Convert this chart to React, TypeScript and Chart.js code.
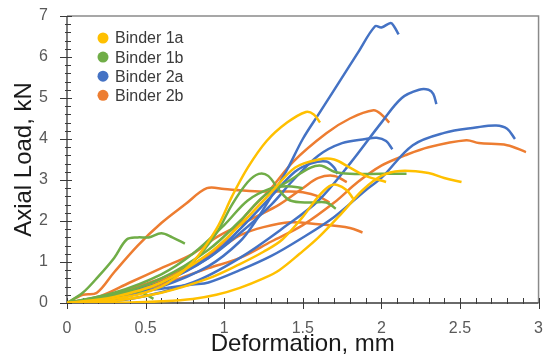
import React, { useEffect, useRef } from "react";
import { Chart, registerables } from "chart.js";

Chart.register(...registerables);

// ---------- Data ----------
const seriesNames = ["Binder 1a", "Binder 1b", "Binder 2a", "Binder 2b"];
const seriesColors = ["#FFC000", "#70AD47", "#4472C4", "#ED7D31"];
const xTickValues = [0, 0.5, 1, 1.5, 2, 2.5, 3];
const yTickValues = [0, 1, 2, 3, 4, 5, 6, 7];
const xMinorStep = 0.1;
const yMinorStep = 0.2;

// Binder 1a (yellow)
const b1a_1 = [[0, 0], [0.3, 0.1], [0.6, 0.4], [0.8, 1.0], [0.95, 1.8], [1.05, 2.6], [1.15, 3.3], [1.27, 3.95], [1.4, 4.4], [1.52, 4.66], [1.57, 4.6], [1.61, 4.4]];
const b1a_2 = [[0, 0], [0.4, 0.01], [0.6, 0.04], [0.8, 0.1], [0.95, 0.2], [1.1, 0.37], [1.25, 0.6], [1.35, 0.8], [1.48, 1.2], [1.6, 1.6], [1.75, 2.2], [1.88, 2.75], [2.0, 3.1], [2.12, 3.22], [2.3, 3.17], [2.4, 3.05], [2.51, 2.95]];
const b1a_3 = [[0, 0], [0.3, 0.15], [0.6, 0.5], [0.9, 1.2], [1.1, 1.9], [1.3, 2.7], [1.45, 3.3], [1.6, 3.5], [1.7, 3.5], [1.8, 3.3], [1.9, 3.1], [2.03, 2.95]];
const b1a_4 = [[0, 0], [0.3, 0.05], [0.6, 0.25], [0.9, 0.6], [1.1, 0.95], [1.25, 1.25], [1.37, 1.55], [1.5, 2.1], [1.6, 2.6], [1.67, 2.85], [1.72, 2.88], [1.78, 2.75], [1.82, 2.55]];

// Binder 1b (green)
const b1b_1 = [[0, 0], [0.1, 0.25], [0.2, 0.65], [0.3, 1.1], [0.38, 1.55], [0.45, 1.6], [0.52, 1.6], [0.6, 1.7], [0.67, 1.6], [0.75, 1.45]];
const b1b_2 = [[0, 0], [0.3, 0.15], [0.6, 0.5], [0.8, 1.0], [0.95, 1.7], [1.05, 2.4], [1.15, 2.95], [1.22, 3.15], [1.28, 3.1], [1.35, 2.75], [1.42, 2.5], [1.55, 2.45], [1.65, 2.45], [1.71, 2.3]];
const b1b_3 = [[0, 0], [0.3, 0.2], [0.6, 0.6], [0.9, 1.3], [1.1, 2.0], [1.25, 2.6], [1.4, 2.95], [1.55, 3.3], [1.62, 3.35], [1.7, 3.2], [1.8, 3.15], [2.0, 3.15], [2.16, 3.15]];
const b1b_4 = [[0, 0], [0.3, 0.25], [0.6, 0.7], [0.8, 1.2], [1.0, 1.9], [1.15, 2.5], [1.3, 2.8], [1.4, 2.85], [1.5, 2.8]];
const b1b_5 = [[0, 0], [0.2, 0.15], [0.4, 0.3], [0.48, 0.25], [0.55, 0.1]];

// Binder 2a (blue)
const b2a_1 = [[0, 0], [0.3, 0.1], [0.6, 0.4], [0.9, 0.9], [1.1, 1.5], [1.2, 2.0], [1.3, 2.6], [1.4, 3.25], [1.5, 4.0], [1.6, 4.6], [1.7, 5.2], [1.85, 6.1], [1.96, 6.75], [2.0, 6.72], [2.06, 6.83], [2.08, 6.75], [2.11, 6.55]];
const b2a_2 = [[0, 0], [0.4, 0.1], [0.8, 0.5], [1.1, 1.1], [1.4, 1.9], [1.6, 2.5], [1.8, 3.4], [2.0, 4.4], [2.13, 5.0], [2.24, 5.2], [2.3, 5.2], [2.33, 5.1], [2.35, 4.85]];
const b2a_3 = [[0, 0], [0.2, 0.1], [0.4, 0.25], [0.6, 0.35], [0.8, 0.45], [0.9, 0.5], [1.1, 0.8], [1.3, 1.15], [1.48, 1.55], [1.7, 2.1], [1.9, 2.75], [2.0, 3.05], [2.2, 3.85], [2.4, 4.15], [2.6, 4.28], [2.73, 4.33], [2.8, 4.25], [2.85, 4.0]];
const b2a_4 = [[0, 0], [0.3, 0.15], [0.6, 0.5], [0.9, 1.1], [1.1, 1.7], [1.3, 2.4], [1.44, 3.0], [1.6, 3.6], [1.75, 3.9], [1.9, 4.0], [1.97, 4.03], [2.03, 3.95], [2.07, 3.75]];
const b2a_5 = [[0, 0], [0.3, 0.2], [0.6, 0.5], [0.9, 1.1], [1.1, 1.8], [1.3, 2.6], [1.45, 3.2], [1.55, 3.4], [1.65, 3.45], [1.7, 3.3], [1.72, 3.15]];

// Binder 2b (orange)
const b2b_1 = [[0, 0], [0.2, 0.1], [0.5, 0.4], [0.8, 0.9], [1.0, 1.5], [1.15, 2.2], [1.29, 2.76], [1.44, 3.45], [1.65, 4.14], [1.8, 4.5], [1.95, 4.7], [2.0, 4.6], [2.05, 4.4]];
const b2b_2 = [[0, 0], [0.1, 0.2], [0.19, 0.25], [0.3, 0.75], [0.45, 1.4], [0.6, 1.95], [0.75, 2.4], [0.89, 2.8], [1.0, 2.78], [1.1, 2.75], [1.25, 2.72], [1.4, 2.72], [1.5, 2.7], [1.6, 2.6], [1.67, 2.45]];
const b2b_3 = [[0, 0], [0.3, 0.15], [0.6, 0.45], [0.9, 0.85], [1.1, 1.1], [1.3, 1.5], [1.5, 1.9], [1.7, 2.45], [1.85, 2.95], [2.0, 3.35], [2.15, 3.6], [2.3, 3.8], [2.54, 3.97], [2.62, 3.9], [2.8, 3.85], [2.92, 3.68]];
const b2b_4 = [[0, 0], [0.2, 0.1], [0.4, 0.35], [0.6, 0.6], [0.8, 0.95], [1.0, 1.4], [1.1, 1.65], [1.25, 1.85], [1.42, 1.97], [1.6, 1.92], [1.8, 1.83], [1.88, 1.72]];
const b2b_5 = [[0, 0], [0.2, 0.15], [0.4, 0.5], [0.6, 0.85], [0.8, 1.2], [0.95, 1.6], [1.1, 1.9], [1.2, 2.1], [1.35, 2.4], [1.5, 2.8], [1.6, 3.05], [1.7, 3.1], [1.78, 2.95]];

const groups = [
  [b1a_1, b1a_2, b1a_3, b1a_4],
  [b1b_1, b1b_2, b1b_3, b1b_4, b1b_5],
  [b2a_1, b2a_2, b2a_3, b2a_4, b2a_5],
  [b2b_1, b2b_2, b2b_3, b2b_4, b2b_5],
];

const FONT = "'Liberation Sans', Arial, sans-serif";

const decorPlugin = {
  id: "decor",
  beforeDatasetsDraw(chart: any) {
    const { ctx, chartArea, scales } = chart;
    const { left, right, top, bottom } = chartArea;
    const x = scales.x;
    const y = scales.y;
    ctx.save();
    // frame (top & right)
    ctx.strokeStyle = "#8a8a8a";
    ctx.lineWidth = 1.5;
    ctx.beginPath();
    ctx.moveTo(left, top);
    ctx.lineTo(right, top);
    ctx.lineTo(right, bottom);
    ctx.stroke();
    // axes
    ctx.strokeStyle = "#3a3a3a";
    ctx.lineWidth = 1.3;
    ctx.beginPath();
    ctx.moveTo(left, top);
    ctx.lineTo(left, bottom);
    ctx.lineTo(right, bottom);
    ctx.stroke();
    // y ticks
    ctx.lineWidth = 1;
    ctx.beginPath();
    const yMax = y.max;
    for (let i = 0; i * yMinorStep <= yMax + 1e-6; i++) {
      const v = i * yMinorStep;
      const py = Math.round(y.getPixelForValue(v)) + 0.5;
      const major = yTickValues.some((t) => Math.abs(t - v) < 1e-6);
      ctx.moveTo(major ? left - 7 : left - 2, py);
      ctx.lineTo(major ? left + 5 : left + 4, py);
    }
    // x ticks
    const xMax = x.max;
    for (let i = 0; i * xMinorStep <= xMax + 1e-6; i++) {
      const v = i * xMinorStep;
      const px = Math.round(x.getPixelForValue(v)) + 0.5;
      const major = xTickValues.some((t) => Math.abs(t - v) < 1e-6);
      ctx.moveTo(px, bottom - 5);
      ctx.lineTo(px, major ? bottom + 6 : bottom + 1);
    }
    ctx.stroke();
    ctx.restore();
  },
  afterDraw(chart: any) {
    const { ctx, chartArea } = chart;
    ctx.save();
    const cx = chartArea.left + 36;
    const cy0 = chartArea.top + 22;
    const step = 19.1;
    ctx.font = `16px ${FONT}`;
    ctx.textBaseline = "middle";
    ctx.textAlign = "left";
    seriesNames.forEach((name, i) => {
      const cy = cy0 + i * step;
      ctx.fillStyle = seriesColors[i];
      ctx.beginPath();
      ctx.arc(cx, cy, 5.5, 0, Math.PI * 2);
      ctx.fill();
      ctx.fillStyle = "#3a3a3a";
      ctx.fillText(name, cx + 12, cy + 1);
    });
    ctx.restore();
  },
};

export default function App() {
  const ref = useRef<HTMLCanvasElement | null>(null);

  useEffect(() => {
    document.body.style.margin = "0";
    const canvas = ref.current;
    if (!canvas) return;
    const datasets: any[] = [];
    groups.forEach((curves, gi) => {
      curves.forEach((pts, ci) => {
        datasets.push({
          label: `${seriesNames[gi]} #${ci + 1}`,
          data: pts.map(([px, py]) => ({ x: px, y: py })),
          borderColor: seriesColors[gi],
          backgroundColor: seriesColors[gi],
          borderWidth: 2.5,
          showLine: true,
          pointRadius: 0,
          tension: 0.35,
          fill: false,
        });
      });
    });

    const chart = new Chart(canvas, {
      type: "scatter",
      data: { datasets },
      plugins: [decorPlugin],
      options: {
        animation: false,
        responsive: false,
        layout: { padding: { left: 0, right: 4, top: 16, bottom: 0 } },
        plugins: { legend: { display: false }, tooltip: { enabled: false } },
        scales: {
          x: {
            type: "linear",
            min: 0,
            max: 3,
            afterFit: (s: any) => {
              s.height = 55;
            },
            afterBuildTicks: (s: any) => {
              s.ticks = xTickValues.map((v) => ({ value: v }));
            },
            grid: { display: false, drawTicks: true, tickLength: 16, tickColor: "rgba(0,0,0,0)" },
            border: { display: false },
            ticks: {
              color: "#595959",
              font: { family: FONT, size: 16 },
              padding: 0,
              maxRotation: 0,
              callback: (v: any) => String(v),
            },
            title: {
              display: true,
              text: "Deformation, mm",
              color: "#1a1a1a",
              font: { family: FONT, size: 24 },
              padding: { top: 0, bottom: -1 },
            },
          },
          y: {
            type: "linear",
            min: 0,
            max: 7,
            afterFit: (s: any) => {
              s.width = 67;
            },
            afterBuildTicks: (s: any) => {
              s.ticks = yTickValues.map((v) => ({ value: v }));
            },
            grid: { display: false, drawTicks: true, tickLength: 16, tickColor: "rgba(0,0,0,0)" },
            border: { display: false },
            ticks: {
              color: "#595959",
              font: { family: FONT, size: 16 },
              padding: 3,
              callback: (v: any) => String(v),
            },
            title: {
              display: true,
              text: "Axial Load, kN",
              color: "#1a1a1a",
              font: { family: FONT, size: 24 },
              padding: { top: 10, bottom: 0 },
            },
          },
        },
      },
    });
    return () => chart.destroy();
  }, []);

  return (
    <div style={{ position: "absolute", left: 0, top: 0, width: 543, height: 358 }}>
      <canvas ref={ref} width={543} height={358} style={{ display: "block" }} />
    </div>
  );
}
